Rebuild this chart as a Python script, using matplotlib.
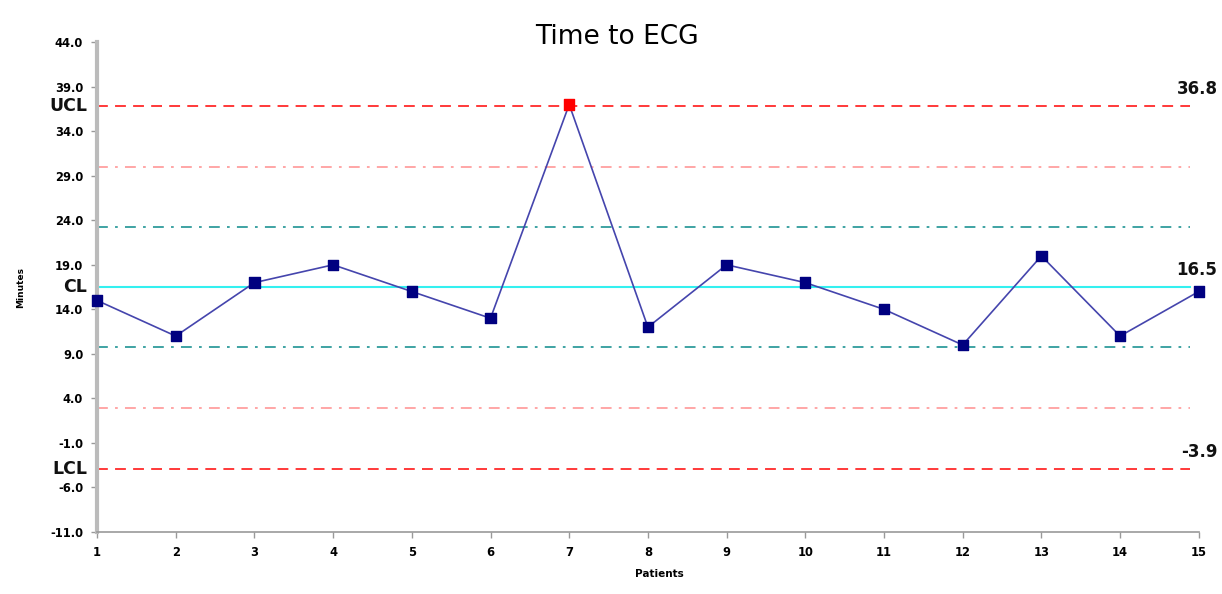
#!/usr/bin/env python3
# -*- coding: utf-8 -*-

import matplotlib
matplotlib.use("Agg")
import matplotlib.pyplot as plt
import matplotlib.transforms as mtransforms

# individuals chart data
patients = list(range(1, 16))
minutes = [15, 11, 17, 19, 16, 13, 37, 12, 19, 17, 14, 10, 20, 11, 16]

center = 16.5
ucl = 36.8
lcl = -3.9
sigma = (ucl - center) / 3.0

yticks = [-11, -6, -1, 4, 9, 14, 19, 24, 29, 34, 39, 44]

fig = plt.figure(figsize=(12.22, 5.94), dpi=100)
ax = fig.add_axes([0.0794, 0.1044, 0.9016, 0.8246])

# control limits and sigma zones
xe = 0.992
ax.axhline(ucl, xmax=xe, color="#ff2a2a", lw=1.3, ls=(0, (6, 4)))
ax.axhline(lcl, xmax=xe, color="#ff2a2a", lw=1.3, ls=(0, (6, 4)))
ax.axhline(center + 2 * sigma, xmax=xe, color="#ff9f9f", lw=1.3, ls=(0, (6, 4, 1.5, 4)))
ax.axhline(center - 2 * sigma, xmax=xe, color="#ff9f9f", lw=1.3, ls=(0, (6, 4, 1.5, 4)))
ax.axhline(center + sigma, xmax=xe, color="#2f9c9c", lw=1.3, ls=(0, (6, 4, 1.5, 4)))
ax.axhline(center - sigma, xmax=xe, color="#2f9c9c", lw=1.3, ls=(0, (6, 4, 1.5, 4)))
ax.axhline(center, xmax=xe, color="#33f0f0", lw=1.5)

ax.plot(patients, minutes, color="#4545ad", lw=1.2, zorder=3)
colors = ["#ff0000" if v > ucl or v < lcl else "#000080" for v in minutes]
ax.scatter(patients, minutes, marker="s", s=55, c=colors, zorder=4, clip_on=False)

ax.set_xlim(1, 15)
ax.set_ylim(-11, 44)
ax.set_xticks(patients)
ax.set_yticks(yticks)
ax.set_yticklabels(["%.1f" % t for t in yticks])
for lab in ax.get_xticklabels() + ax.get_yticklabels():
    lab.set_fontsize(8.3)
    lab.set_fontweight("bold")
ax.tick_params(axis="both", length=4, width=1, color="#999999", pad=6)

for s in ["top", "right"]:
    ax.spines[s].set_visible(False)
ax.spines["left"].set_color("#bbbbbb")
ax.spines["left"].set_linewidth(3)
ax.spines["bottom"].set_color("#999999")
ax.spines["bottom"].set_linewidth(1.2)

# limit names on the left, values on the right
trans = mtransforms.blended_transform_factory(ax.transAxes, ax.transData)
for name, val in [("UCL", ucl), ("CL", center), ("LCL", lcl)]:
    ax.text(-0.009, val, name, transform=trans, ha="right", va="center",
            fontsize=12.5, fontweight="bold", color="#111111")
for val in [ucl, center, lcl]:
    ax.text(1.017, val + 0.9, "%.1f" % val, transform=trans, ha="right", va="bottom",
            fontsize=12, fontweight="bold", color="#111111")

ax.set_xlabel("Patients", fontsize=7.5, fontweight="bold")
ax.xaxis.set_label_coords(0.51, -0.075)
ax.set_ylabel("Minutes", fontsize=6.5, fontweight="bold")
ax.yaxis.set_label_coords(-0.065, 0.5)

fig.text(0.505, 0.938, "Time to ECG", ha="center", va="center", fontsize=19)

fig.savefig("out.png", dpi=100)
